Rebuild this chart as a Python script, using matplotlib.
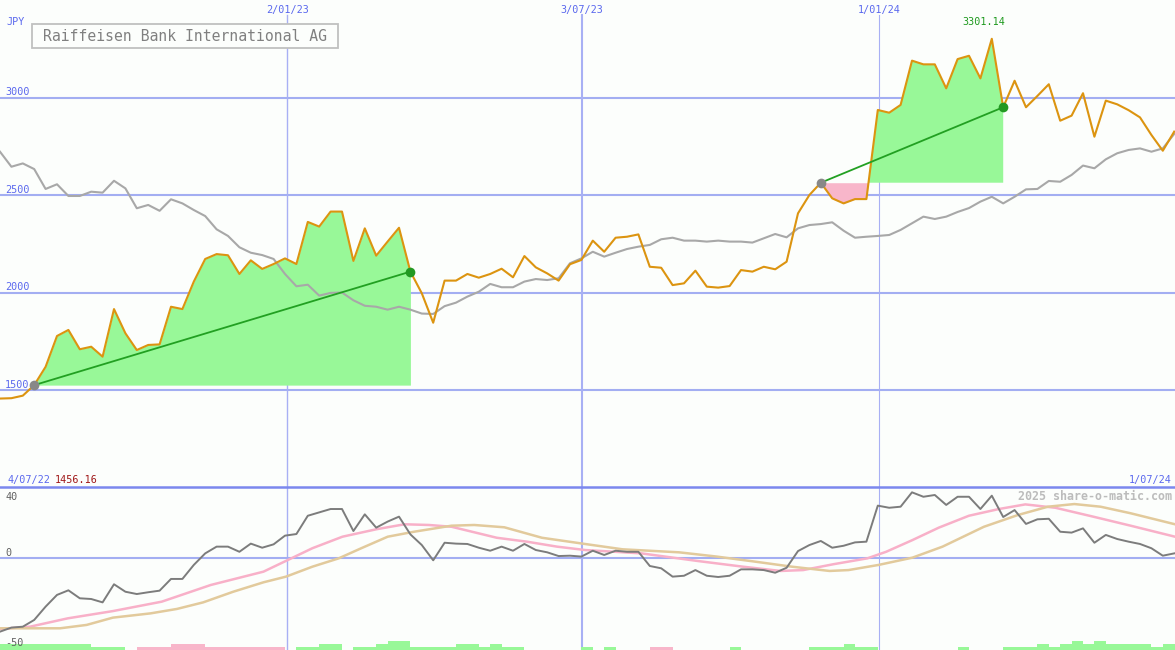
import numpy as np
import matplotlib
matplotlib.use("Agg")
import matplotlib.pyplot as plt
from matplotlib.patches import Rectangle

# ---------------- data ----------------
title = "Raiffeisen Bank International AG"
currency = "JPY"
weeks = np.arange(104)
price = np.array([
    1456.16, 1458, 1471, 1525, 1619, 1777, 1808, 1709, 1722, 1671,
    1915, 1791, 1705, 1731, 1734, 1927, 1915, 2056, 2172, 2197,
    2191, 2095, 2165, 2121, 2146, 2175, 2146, 2362, 2338, 2415,
    2415, 2162, 2329, 2189, 2261, 2332, 2107, 1996, 1845, 2061,
    2061, 2095, 2076, 2095, 2122, 2078, 2187, 2129, 2098, 2061,
    2145, 2167, 2266, 2209, 2281, 2286, 2298, 2132, 2127, 2038,
    2047, 2112, 2030, 2025, 2033, 2115, 2107, 2132, 2119, 2158,
    2406, 2500, 2563, 2483, 2457, 2479, 2479, 2936, 2922, 2962,
    3189, 3170, 3170, 3047, 3197, 3214, 3098, 3301.14, 2950, 3086,
    2950, 3008, 3068, 2881, 2907, 3022, 2799, 2984, 2965, 2935,
    2898, 2808, 2727, 2825])
avg = np.array([
    2722, 2645, 2662, 2633, 2531, 2555, 2495, 2495, 2517, 2512,
    2573, 2534, 2432, 2449, 2419, 2478, 2457, 2423, 2392, 2324,
    2290, 2232, 2204, 2192, 2172, 2095, 2032, 2040, 1984, 1998,
    2000, 1960, 1932, 1927, 1912, 1927, 1912, 1892, 1890, 1930,
    1948, 1979, 2004, 2044, 2027, 2027, 2056, 2069, 2064, 2073,
    2150, 2175, 2209, 2184, 2204, 2223, 2235, 2244, 2273, 2281,
    2266, 2266, 2261, 2266, 2261, 2261, 2256, 2278, 2300, 2283,
    2329, 2346, 2351, 2360, 2317, 2281, 2286, 2290, 2295, 2321,
    2355, 2389, 2377, 2389, 2413, 2433, 2466, 2491, 2457, 2491,
    2529, 2531, 2572, 2568, 2603, 2651, 2637, 2683, 2714, 2731,
    2739, 2722, 2739, 2813])
osc = np.array([
    -41.5, -39.2, -38.7, -34.9, -27.4, -20.8, -18.2, -22.7, -23.1, -25.0,
    -14.8, -19.0, -20.3, -19.3, -18.4, -11.8, -11.8, -3.9, 2.6, 6.4,
    6.4, 3.5, 8.1, 5.8, 7.7, 12.6, 13.5, 23.8, 25.7, 27.6,
    27.6, 15.2, 24.6, 17.1, 20.5, 23.3, 13.3, 7.3, -1.3, 8.6,
    8.1, 7.9, 5.8, 4.1, 6.4, 4.1, 7.9, 4.5, 3.2, 1.1,
    1.3, 0.8, 4.1, 1.7, 4.1, 3.5, 3.5, -4.5, -5.8, -10.5,
    -10.0, -6.8, -10.0, -10.7, -10.0, -6.4, -6.4, -6.8, -8.3, -5.5,
    3.9, 7.3, 9.6, 5.8, 6.9, 8.8, 9.2, 29.5, 28.3, 28.9,
    37.0, 34.5, 35.5, 29.9, 34.5, 34.5, 27.6, 35.1, 23.1, 27.0,
    19.2, 21.8, 22.1, 14.8, 14.3, 16.7, 8.6, 13.0, 10.7, 9.2,
    7.9, 5.5, 1.3, 2.6])
pink_w = [0, 2.63, 5.94, 9.91, 14.19, 18.49, 23.11, 25.42, 27.40, 30.04,
          33.02, 35.49, 37.63, 39.61, 43.58, 46.22, 48.86, 51.32, 56.27, 61.22,
          65.18, 68.48, 70.46, 73.11, 76.08, 77.73, 80.04, 82.35, 84.99, 87.63,
          89.94, 92.58, 95.89, 99.18, 103.07]
pink_v = [-40, -38.7, -34, -29.9, -24.6, -15.2, -7.7, -0.6, 5.5, 12,
          16.2, 19, 18.6, 17.6, 11.4, 9.2, 6.4, 4.5, 2.6, -1.7,
          -4.9, -7.3, -6.8, -3.5, -0.2, 3.5, 10.1, 17.1, 23.8, 27.6,
          30.2, 28.3, 23.3, 18.2, 12]
tan_w = [0, 5.28, 7.6, 9.9, 13.2, 15.52, 17.82, 20.46, 23.11, 25.09,
         27.4, 29.71, 31.69, 34.01, 36.32, 39.61, 41.6, 44.24, 47.54, 51.32,
         54.61, 59.57, 62.87, 66.18, 69.47, 72.77, 74.43, 77.07, 80.04, 82.68,
         86.31, 89.28, 91.92, 94.24, 96.54, 99.18, 103.07]
tan_v = [-39.6, -39.6, -37.7, -33.6, -31.2, -28.7, -25, -19, -13.7, -10.5,
         -4.9, -0.2, 5.5, 12, 14.8, 18.2, 18.6, 17.3, 11.4, 7.9,
         4.9, 3.2, 0.8, -2, -4.9, -7.3, -6.8, -3.9, 0.2, 6.4,
         17.6, 24.2, 28.9, 30.4, 28.9, 25.2, 19]
hist = np.array([
    2, 2, 2, 2, 2, 2, 2, 2, 1, 1,
    1, 0, -1, -1, -1, -2, -2, -2, -1, -1,
    -1, -1, -1, -1, -1, 0, 1, 1, 2, 2,
    0, 1, 1, 2, 3, 3, 1, 1, 1, 1,
    2, 2, 1, 2, 1, 1, 0, 0, 0, 0,
    0, 1, 0, 1, 0, 0, 0, -1, -1, 0,
    0, 0, 0, 0, 1, 0, 0, 0, 0, 0,
    0, 1, 1, 1, 2, 1, 1, 0, 0, 0,
    0, 0, 0, 0, 1, 0, 0, 0, 1, 1,
    1, 2, 1, 2, 3, 2, 3, 2, 2, 2,
    2, 1, 2, 2])
signals = [(3, 36), (72, 88)]
date_ticks = [25.2, 51.05, 77.1]
date_labels = ["2/01/23", "3/07/23", "1/01/24"]
price_ticks = [1500, 2000, 2500, 3000]
osc_ticks = [40, 0, -50]
first_date, last_date = "4/07/22", "1/07/24"
watermark = "2025 share-o-matic.com"

# ---------------- style ----------------
W, H = 1175, 650
MAIN_H = 487
bg = "#fcfefc"
grid_c = "#a3aef2"
blue_txt = "#5a68ee"
font = "DejaVu Sans Mono"
plt.rcParams["font.family"] = [font]

fig = plt.figure(figsize=(W / 100, H / 100), dpi=100)
fig.patch.set_facecolor(bg)
ax = fig.add_axes([0, (H - MAIN_H) / H, 1, MAIN_H / H])
ax2 = fig.add_axes([0, 0, 1, (H - MAIN_H) / H])
for a in (ax, ax2):
    a.set_facecolor(bg)
    for s in a.spines.values():
        s.set_visible(False)
    a.set_xticks([])
    a.set_yticks([])
    a.set_xlim(0, 103.07)
ax.set_ylim(1002.6, 3500)
ax2.set_ylim(-51.83, 40)

# grid lines
for v in price_ticks:
    ax.axhline(v, color=grid_c, lw=1.5, zorder=1)
vw = [1.0, 1.5, 0.8]
for t, w in zip(date_ticks, vw):
    ax.axvline(t, ymin=0, ymax=1 - 15 / MAIN_H, color="#a8b0f4", lw=w, zorder=1)
    ax2.axvline(t, color="#a8b0f4", lw=w, zorder=1)
ax2.axhline(0, color=grid_c, lw=1.5, zorder=1)
ax2.axhline(40, color="#7b88ee", lw=1.8, zorder=6, clip_on=False)

# signal regions
for s, e in signals:
    xs = weeks[s:e + 1]
    ys = price[s:e + 1]
    base = price[s]
    ax.fill_between(xs, base, ys, where=ys >= base, interpolate=True,
                    color="#98f898", lw=0, zorder=2)
    ax.fill_between(xs, base, ys, where=ys <= base, interpolate=True,
                    color="#f8b6ca", lw=0, zorder=2)
    ax.plot([weeks[s], weeks[e]], [price[s], price[e]], color="#22a022",
            lw=1.3, zorder=5)
    ax.plot(weeks[s], price[s], "o", color="#888888", ms=7, mec="none", zorder=6)
    ax.plot(weeks[e], price[e], "o", color="#229922", ms=7, mec="none", zorder=6)

ax.plot(weeks, avg, color="#a8a8a8", lw=1.5, zorder=3)
ax.plot(weeks, price, color="#dc9410", lw=1.5, zorder=4)

# oscillator panel
ax2.plot(pink_w, pink_v, color="#f8b0c8", lw=1.8, zorder=3)
ax2.plot(tan_w, tan_v, color="#e2ca9c", lw=1.8, zorder=3)
ax2.plot(weeks, osc, color="#7c7c7c", lw=1.4, zorder=4)

axh = ax2.twinx()
axh.set_ylim(0, (H - MAIN_H) / 3)
axh.set_xlim(0, 103.07)
for s in axh.spines.values():
    s.set_visible(False)
axh.set_yticks([])
cols = ["#98f898" if h > 0 else "#f8b6ca" for h in hist]
axh.bar(weeks, np.abs(hist), width=1, align="edge", color=cols, lw=0, zorder=2)

# ---------------- text ----------------
def yf_main(py):
    return 1 - py / MAIN_H

def yf_low(py):
    return 1 - (py - MAIN_H) / (H - MAIN_H)

fs = 7.3
xt = ax.get_xaxis_transform()
for t, lab in zip(date_ticks, date_labels):
    ax.text(t, yf_main(13.3), lab, transform=xt, ha="center", va="baseline",
            color=blue_txt, fontsize=fs, zorder=8)

yt = ax.get_yaxis_transform()
for v in price_ticks:
    ax.annotate(str(v), xy=(5 / W, v), xycoords=yt, xytext=(0, 2.5),
                textcoords="offset pixels", va="baseline", ha="left",
                color=blue_txt, fontsize=fs, zorder=8)
ax.text(6 / W, yf_main(25), currency, transform=ax.transAxes, va="baseline",
        color=blue_txt, fontsize=fs)

ax.add_patch(Rectangle((32.3 / W, yf_main(48.3)), 306 / W, 24 / MAIN_H,
                       transform=ax.transAxes, facecolor=bg,
                       edgecolor="#c0c0c0", lw=1.3, zorder=7))
ax.text(185.3 / W, yf_main(40.8), title, transform=ax.transAxes, ha="center",
        va="baseline", color="#808080", fontsize=10.6, zorder=8)

imax = int(np.argmax(price))
ax.text(weeks[imax] - 0.7, yf_main(25), f"{price[imax]:.2f}", transform=xt,
        ha="center", va="baseline", color="#1f9a1f", fontsize=fs, zorder=8)

ax.text(7 / W, yf_main(482.7), first_date, transform=ax.transAxes,
        va="baseline", color=blue_txt, fontsize=fs)
ax.text(55 / W, yf_main(482.7), f"{price[0]:.2f}", transform=ax.transAxes,
        va="baseline", color="#a01818", fontsize=fs)
ax.text(1172 / W, yf_main(483), last_date, transform=ax.transAxes,
        ha="right", va="baseline", color=blue_txt, fontsize=fs)

for v, py in zip(osc_ticks, [500, 556.5, 645.5]):
    axh.text(5 / W, yf_low(py), str(v), transform=axh.transAxes,
             va="baseline", color="#606060", fontsize=fs, zorder=8)
axh.text(1172 / W, yf_low(500), watermark, transform=axh.transAxes,
         ha="right", va="baseline", color="#bcbcbc", fontsize=8.4,
         fontweight="bold", zorder=8)

fig.savefig("out.png", dpi=100, facecolor=bg)
